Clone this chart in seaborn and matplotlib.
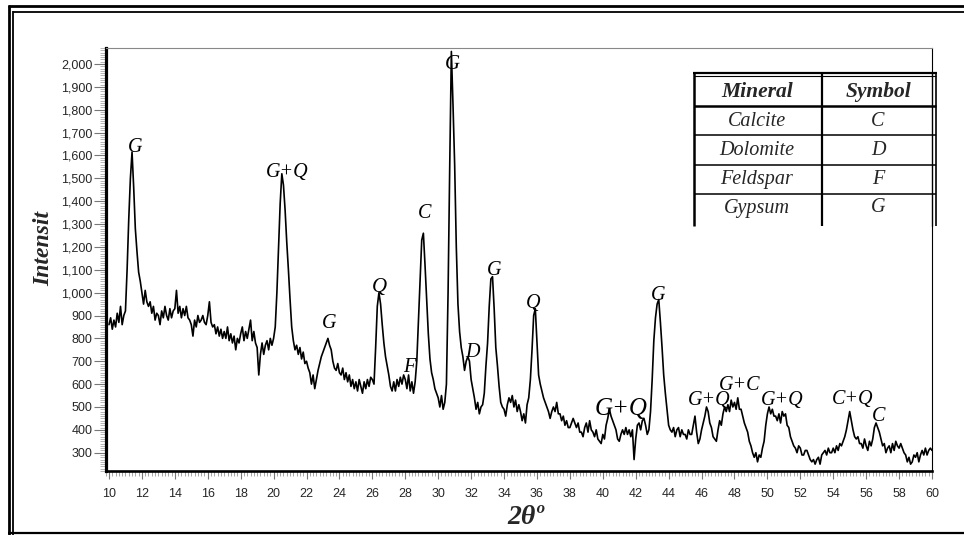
import numpy as np
import pandas as pd
import matplotlib
matplotlib.use("Agg")
import matplotlib.pyplot as plt
from matplotlib.lines import Line2D
from matplotlib.patches import Rectangle
from matplotlib.ticker import MultipleLocator, StrMethodFormatter
import seaborn as sns

# ---------------- data ----------------
two_theta_start = 10.0
two_theta_step = 0.1
intensity = [
    860, 890, 840, 880, 850, 910, 870, 940, 860, 900,        # 10
    920, 1100, 1320, 1500, 1615, 1460, 1280, 1180, 1090, 1050,  # 11
    1000, 950, 1010, 960, 940, 960, 910, 940, 880, 910,      # 12
    900, 860, 920, 890, 940, 900, 880, 930, 890, 920,        # 13
    930, 1010, 910, 940, 890, 930, 900, 940, 890, 880,       # 14
    860, 810, 880, 850, 900, 870, 880, 900, 870, 860,        # 15
    900, 960, 870, 850, 860, 820, 850, 810, 840, 800,        # 16
    830, 800, 850, 790, 820, 780, 810, 750, 800, 780,        # 17
    820, 850, 790, 830, 800, 840, 880, 790, 830, 780,        # 18
    760, 640, 730, 780, 730, 770, 790, 750, 800, 770,        # 19
    800, 850, 1000, 1200, 1390, 1520, 1470, 1360, 1220, 1100,  # 20
    970, 850, 790, 750, 770, 730, 760, 710, 740, 690,        # 21
    700, 670, 650, 600, 640, 580, 620, 660, 690, 720,        # 22
    740, 760, 780, 800, 770, 750, 700, 670, 660, 690,        # 23
    650, 640, 670, 620, 650, 610, 640, 590, 620, 580,        # 24
    610, 570, 620, 590, 560, 610, 580, 620, 590, 630,        # 25
    620, 600, 760, 940, 1000, 950, 860, 780, 720, 680,       # 26
    640, 590, 570, 610, 570, 620, 590, 630, 600, 640,        # 27
    620, 580, 640, 570, 610, 560, 610, 700, 880, 1060,       # 28
    1230, 1260, 1120, 970, 820, 710, 650, 620, 580, 560,     # 29
    540, 500, 550, 490, 520, 600, 1000, 1550, 2055, 1820,    # 30
    1560, 1200, 950, 830, 760, 720, 660, 700, 720, 700,      # 31
    620, 580, 540, 490, 520, 470, 500, 510, 560, 680,        # 32
    780, 940, 1060, 1070, 930, 760, 680, 590, 520, 500,      # 33
    490, 460, 510, 540, 520, 550, 500, 530, 480, 510,        # 34
    480, 440, 470, 430, 510, 540, 620, 750, 900, 930,        # 35
    780, 640, 600, 570, 540, 520, 500, 480, 450, 480,        # 36
    500, 480, 520, 470, 470, 440, 460, 420, 440, 410,        # 37
    410, 430, 450, 430, 410, 430, 390, 390, 370, 410,        # 38
    430, 390, 440, 400, 390, 370, 400, 360, 350, 340,        # 39
    380, 360, 420, 450, 490, 460, 440, 420, 400, 360,        # 40
    350, 380, 400, 380, 410, 380, 400, 370, 400, 270,        # 41
    360, 420, 430, 400, 440, 450, 420, 380, 400, 480,        # 42
    620, 790, 890, 950, 970, 870, 760, 640, 560, 490,        # 43
    420, 400, 390, 410, 370, 400, 410, 370, 400, 380,        # 44
    380, 360, 400, 380, 380, 420, 460, 390, 340, 360,        # 45
    400, 430, 460, 500, 480, 430, 410, 370, 360, 350,        # 46
    400, 440, 420, 470, 500, 480, 510, 480, 530, 500,        # 47
    520, 490, 540, 490, 490, 460, 430, 410, 390, 350,        # 48
    330, 300, 280, 300, 260, 290, 280, 320, 350, 420,        # 49
    470, 500, 470, 490, 460, 460, 440, 470, 430, 480,        # 50
    460, 470, 420, 410, 370, 350, 330, 320, 300, 330,        # 51
    320, 290, 290, 310, 310, 290, 270, 260, 270, 250,        # 52
    270, 280, 250, 290, 300, 310, 290, 320, 300, 300,        # 53
    320, 300, 330, 310, 340, 330, 350, 370, 400, 440,        # 54
    480, 440, 400, 370, 360, 370, 340, 340, 320, 360,        # 55
    330, 310, 350, 330, 360, 410, 430, 410, 390, 360,        # 56
    330, 340, 300, 320, 330, 300, 340, 310, 350, 330,        # 57
    320, 340, 320, 300, 290, 260, 280, 250, 260, 290,        # 58
    280, 300, 260, 290, 310, 290, 320, 290, 310, 320,        # 59
    310,                                                      # 60
]
two_theta = np.round(two_theta_start + two_theta_step * np.arange(len(intensity)), 2)

peak_labels = ["G", "G+Q", "G", "Q", "F", "C", "G", "D", "G", "Q",
               "G+Q", "G", "G+Q", "G+C", "G+Q", "C+Q", "C"]
label_x = [11.58, 20.82, 23.37, 26.44, 28.22, 29.17, 30.89, 32.07, 33.38, 35.75,
           41.11, 43.37, 46.47, 48.29, 50.88, 55.20, 56.74]
label_y = [1636, 1524, 863, 1024, 674, 1344, 2000, 739, 1097, 951,
           491, 987, 528, 596, 528, 531, 459]
label_size = [14.5, 14.5, 14.5, 15, 14.5, 14.5, 15, 14.5, 14.5, 14.5,
              18, 14.5, 14.5, 14.5, 14.5, 14.5, 14.5]

table_header = ["Mineral", "Symbol"]
minerals = ["Calcite", "Dolomite", "Feldspar", "Gypsum"]
symbols = ["C", "D", "F", "G"]

x_ticks = list(range(10, 61, 2))
y_ticks = list(range(300, 2001, 100))

# ---------------- figure ----------------
W, H = 964, 535
sns.set_style("white")
plt.rcParams["font.family"] = ["Liberation Sans", "DejaVu Sans"]

fig = plt.figure(figsize=(W / 100, H / 100), dpi=100)

def fx(px):
    return px / W

def fy(py):
    return 1 - py / H

ax_l, ax_r, ax_t, ax_b = 105.7, 932.0, 48.0, 471.0
ax = fig.add_axes([fx(ax_l), fy(ax_b), (ax_r - ax_l) / W, (ax_b - ax_t) / H])

df = pd.DataFrame({"two_theta": two_theta, "intensity": intensity})
sns.lineplot(data=df, x="two_theta", y="intensity", ax=ax, color="black",
             linewidth=1.2, estimator=None, sort=False)

ax.set_xlim(9.8, 60.0)
ax.set_ylim(220, 2070)

ax.set_xticks(x_ticks)
ax.set_yticks(y_ticks)
ax.xaxis.set_minor_locator(MultipleLocator(0.2))
ax.yaxis.set_minor_locator(MultipleLocator(10))
ax.yaxis.set_major_formatter(StrMethodFormatter("{x:,.0f}"))

ax.tick_params(axis="y", which="major", direction="out", length=9, width=0.8,
               color="#777777", labelsize=9, pad=0.5, left=True)
ax.tick_params(axis="y", which="minor", direction="out", length=4, width=0.5,
               color="#999999", left=True)
ax.tick_params(axis="x", which="major", direction="out", length=6, width=0.8,
               color="#777777", labelsize=9, pad=6, bottom=True)
ax.tick_params(axis="x", which="minor", direction="out", length=3.5, width=0.6,
               color="#999999", bottom=True)

for lab in ax.get_xticklabels() + ax.get_yticklabels():
    lab.set_fontfamily("Liberation Sans")

ax.spines["left"].set_linewidth(2.3)
ax.spines["left"].set_color("black")
ax.spines["bottom"].set_linewidth(1.9)
ax.spines["bottom"].set_color("black")
ax.spines["top"].set_linewidth(0.8)
ax.spines["top"].set_color("#888888")
ax.spines["right"].set_linewidth(0.8)
ax.spines["right"].set_color("black")

ax.set_xlabel("2θº", fontsize=20, fontweight="bold", fontstyle="italic",
              fontfamily="Liberation Serif")
ax.set_ylabel("Intensit", fontsize=17, fontweight="bold", fontstyle="italic",
              fontfamily="Liberation Serif")
ax.xaxis.set_label_coords((526 - ax_l) / (ax_r - ax_l), (ax_b - 505) / (ax_b - ax_t))
ax.yaxis.set_label_coords((54 - ax_l) / (ax_r - ax_l), (ax_b - 248) / (ax_b - ax_t))

for s, xv, yv, fs in zip(peak_labels, label_x, label_y, label_size):
    ax.text(xv, yv, s, ha="center", va="center", fontsize=fs,
            fontstyle="italic", fontfamily="Liberation Serif", color="black",
            clip_on=False)

# ---------------- legend table ----------------
def hline(y, x0, x1, lw, color="black"):
    fig.add_artist(Line2D([fx(x0), fx(x1)], [fy(y), fy(y)], transform=fig.transFigure,
                          color=color, linewidth=lw, solid_capstyle="butt"))

def vline(x, y0, y1, lw, color="black"):
    fig.add_artist(Line2D([fx(x), fx(x)], [fy(y0), fy(y1)], transform=fig.transFigure,
                          color=color, linewidth=lw, solid_capstyle="butt"))

tb_l, tb_m, tb_r1, tb_r2 = 694, 822, 932, 936
tb_top, tb_bot = 72, 226
fig.add_artist(Rectangle((fx(tb_l), fy(tb_bot)), (tb_r2 - tb_l) / W, (tb_bot - tb_top) / H,
                         transform=fig.transFigure, facecolor="white", edgecolor="none"))
hline(72.8, tb_l - 1, tb_r2 + 1, 1.6)
hline(76.0, tb_l, tb_r2, 0.8)
hline(106.0, tb_l, tb_r2, 1.8)
for yy in (135.5, 164.5, 193.5):
    hline(yy, tb_l, tb_r2, 1.1)
vline(tb_l, tb_top, tb_bot, 1.8)
vline(tb_m, tb_top, tb_bot, 1.6)
vline(tb_r1, tb_top, tb_bot, 1.0)
vline(tb_r2, tb_top, tb_bot, 1.2)

col_c = [757, 878]
for txt, cx in zip(table_header, col_c):
    fig.text(fx(cx), fy(92), txt, ha="center", va="center", fontsize=15.5,
             fontweight="bold", fontstyle="italic", fontfamily="Liberation Serif")
row_c = [121.5, 150.5, 179.5, 208]
for m, s, cy in zip(minerals, symbols, row_c):
    fig.text(fx(col_c[0]), fy(cy), m, ha="center", va="center", fontsize=14.5,
             fontstyle="italic", fontfamily="Liberation Serif")
    fig.text(fx(col_c[1]), fy(cy), s, ha="center", va="center", fontsize=14.5,
             fontstyle="italic", fontfamily="Liberation Serif")

# ---------------- page frame (double border) ----------------
hline(6.0, 8, W, 2.0)
hline(11.5, 12.5, W, 1.3)
vline(9.0, 5, 535, 2.0)
vline(13.0, 10.5, 535, 1.3)
hline(533.0, 8, W, 1.6)

fig.savefig("out.png", dpi=100)
